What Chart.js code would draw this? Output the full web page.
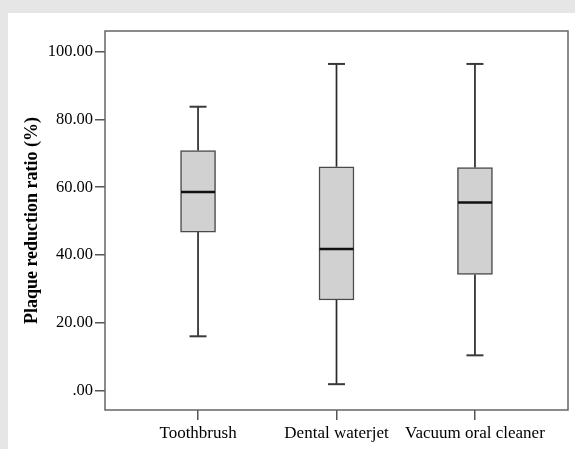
<!DOCTYPE html>
<html>
<head>
<meta charset="utf-8">
<script src="https://cdn.jsdelivr.net/npm/chart.js@4"></script>
<style>
  html, body { margin: 0; padding: 0; background: #e6e6e6; }
  #wrap { position: absolute; left: 8px; top: 13px; width: 567px; height: 436px; background: #fff; }
  canvas { display: block; }
</style>
</head>
<body>
<div id="wrap"><canvas id="chart" width="567" height="436"></canvas></div>
<script>
// values
const categories = ["Toothbrush", "Dental waterjet", "Vacuum oral cleaner"];
const whiskerLow = [16.1, 2.0, 10.5];
const q1 = [46.8, 26.8, 34.3];
const median = [58.6, 41.8, 55.5];
const q3 = [70.8, 66.0, 65.8];
const whiskerHigh = [83.7, 96.3, 96.3];
const yTicks = [0, 20, 40, 60, 80, 100];
const yTickLabels = [".00", "20.00", "40.00", "60.00", "80.00", "100.00"];

const serif = "'Liberation Serif', 'DejaVu Serif', serif";

// whiskers, caps and median lines, placed with the chart's own scales
const boxParts = {
  id: "boxParts",
  beforeDatasetsDraw(chart) {
    const { ctx, scales: { x, y } } = chart;
    ctx.save();
    ctx.strokeStyle = "#2a2a2a";
    ctx.lineWidth = 1.7;
    categories.forEach((c, i) => {
      const cx = x.getPixelForValue(i);
      ctx.beginPath();
      ctx.moveTo(cx, y.getPixelForValue(q3[i]));
      ctx.lineTo(cx, y.getPixelForValue(whiskerHigh[i]));
      ctx.moveTo(cx, y.getPixelForValue(q1[i]));
      ctx.lineTo(cx, y.getPixelForValue(whiskerLow[i]));
      ctx.stroke();
    });
    ctx.restore();
  },
  afterDatasetsDraw(chart) {
    const { ctx, scales: { x, y } } = chart;
    ctx.save();
    categories.forEach((c, i) => {
      const cx = x.getPixelForValue(i);
      ctx.strokeStyle = "#3a3a3a";
      ctx.lineWidth = 2;
      [whiskerHigh[i], whiskerLow[i]].forEach(v => {
        const py = y.getPixelForValue(v);
        ctx.beginPath();
        ctx.moveTo(cx - 8.5, py);
        ctx.lineTo(cx + 8.5, py);
        ctx.stroke();
      });
      ctx.strokeStyle = "#111";
      ctx.lineWidth = 2.5;
      const my = y.getPixelForValue(median[i]);
      ctx.beginPath();
      ctx.moveTo(cx - 17, my);
      ctx.lineTo(cx + 17, my);
      ctx.stroke();
    });
    // frame around plot area
    const a = chart.chartArea;
    ctx.strokeStyle = "#666";
    ctx.lineWidth = 1.5;
    ctx.strokeRect(a.left, a.top, a.right - a.left, a.bottom - a.top);
    ctx.restore();
  }
};

new Chart(document.getElementById("chart"), {
  type: "bar",
  data: {
    datasets: [{
      data: categories.map((c, i) => ({ x: i, y: [q1[i], q3[i]] })),
      backgroundColor: "#d1d1d1",
      borderColor: "#4a4a4a",
      borderWidth: 1.5,
      borderSkipped: false,
      barThickness: 35,
    }],
  },
  options: {
    responsive: false,
    animation: false,
    layout: { padding: { left: 0, top: 18, right: 7, bottom: 0 } },
    plugins: { legend: { display: false }, tooltip: { enabled: false } },
    scales: {
      x: {
        type: "linear",
        offset: false,
        min: -0.672,
        max: 2.672,
        afterFit: s => { s.height = 39; },
        afterBuildTicks: s => { s.ticks = categories.map((c, i) => ({ value: i })); },
        grid: { offset: false, drawOnChartArea: false, drawTicks: true, tickLength: 10, color: "#555", lineWidth: 1.5 },
        border: { display: false },
        ticks: {
          padding: 3,
          color: "#000",
          font: { family: serif, size: 17 },
          maxRotation: 0,
          autoSkip: false,
          callback: v => categories[v],
        },
      },
      y: {
        min: -5.6,
        max: 106.0,
        afterFit: s => { s.width = 97; },
        afterBuildTicks: s => { s.ticks = yTicks.map(v => ({ value: v })); },
        grid: { drawOnChartArea: false, drawTicks: true, tickLength: 10, color: "#555", lineWidth: 1.5 },
        border: { display: false },
        ticks: {
          padding: 2,
          color: "#000",
          font: { family: serif, size: 16.5 },
          callback: v => yTickLabels[yTicks.indexOf(v)],
        },
        title: {
          display: true,
          text: "Plaque reduction ratio (%)",
          color: "#000",
          font: { family: serif, size: 18, weight: "bold" },
          padding: { top: 14, bottom: 0 },
        },
      },
    },
  },
  plugins: [boxParts],
});
</script>
</body>
</html>
